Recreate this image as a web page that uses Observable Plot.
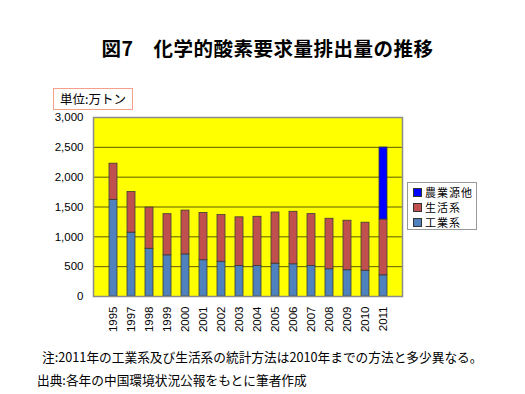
<!DOCTYPE html>
<html>
<head>
<meta charset="utf-8">
<script src="https://cdn.jsdelivr.net/npm/d3@7"></script>
<script src="https://cdn.jsdelivr.net/npm/@observablehq/plot@0.6"></script>
<style>
  html, body { margin: 0; padding: 0; background: #fff; }
  #wrap { position: relative; width: 525px; height: 394px; overflow: hidden; font-family: "Noto Sans CJK JP", "Liberation Sans", sans-serif; }
  #chart { position: absolute; left: 0; top: 0; }
  .title { position: absolute; left: 0; width: 535px; top: 33px; text-align: center; font-size: 19.5px; font-weight: bold; color: #000; letter-spacing: 0.5px; white-space: nowrap; }
  .unit { position: absolute; left: 53px; top: 88px; width: 80px; height: 22px; border: 1px solid #F4A08A; box-sizing: border-box; font-size: 12.5px; line-height: 20px; text-align: center; color: #000; white-space: nowrap; }
  .legend { position: absolute; left: 407px; top: 182px; width: 70px; height: 48px; border: 1px solid #999; box-sizing: border-box; background: #fff; font-size: 11px; }
  .legend .row { position: absolute; left: 5px; height: 14px; line-height: 14px; letter-spacing: 1px; color: #000; white-space: nowrap; }
  .legend .sw { display: inline-block; width: 7px; height: 7px; border: 1px solid #333; margin-right: 3px; vertical-align: 0px; }
  .note { position: absolute; font-size: 12.7px; color: #000; white-space: nowrap; }
</style>
</head>
<body>
<div id="wrap">
  <div id="chart"></div>
  <div class="title">図7　化学的酸素要求量排出量の推移</div>
  <div class="unit">単位:万トン</div>
  <div class="legend" id="legend"></div>
  <div class="note" style="left:42px; top:347px;">注:2011年の工業系及び生活系の統計方法は2010年までの方法と多少異なる。</div>
  <div class="note" style="left:37px; top:370px;">出典:各年の中国環境状況公報をもとに筆者作成</div>
</div>
<script>
const years = ["1995","1997","1998","1999","2000","2001","2002","2003","2004","2005","2006","2007","2008","2009","2010","2011"];
const industrial = [1620, 1070, 800, 690, 705, 608, 582, 512, 510, 550, 540, 511, 456, 440, 432, 355];
const domestic   = [606, 680, 690, 690, 735, 792, 783, 815, 826, 858, 880, 870, 847, 830, 805, 935];
const agriculture = [0,0,0,0,0,0,0,0,0,0,0,0,0,0,0,1207];
const seriesNames = ["工業系", "生活系", "農業源他"];
const seriesColors = ["#4F81BD", "#C0504D", "#0000FF"];
const yTicks = [0, 500, 1000, 1500, 2000, 2500, 3000];

const seriesValues = [industrial, domestic, agriculture];
const data = [];
seriesNames.forEach((s, si) => {
  years.forEach((y, i) => {
    if (seriesValues[si][i] > 0) data.push({year: y, series: s, value: seriesValues[si][i]});
  });
});

const chart = Plot.plot({
  width: 525,
  height: 394,
  marginTop: 117,
  marginBottom: 98,
  marginLeft: 93,
  marginRight: 123,
  style: {fontFamily: "'Liberation Sans', Arial, sans-serif", fontSize: "11.5px", color: "#000", background: "transparent"},
  x: {domain: years, padding: 0.58, label: null},
  y: {domain: [0, 3000], label: null},
  color: {domain: seriesNames, range: seriesColors},
  marks: [
    Plot.frame({fill: "#FFFF00", stroke: "none"}),
    Plot.gridY(yTicks, {stroke: "#5C5C00", strokeOpacity: 1, strokeWidth: 1}),
    Plot.barY(data, {x: "year", y: "value", fill: "series", stroke: "#3a3a3a", strokeWidth: 0.8, order: seriesNames}),
    Plot.frame({stroke: "#8c8c8c", strokeWidth: 1.5}),
    Plot.axisY({ticks: yTicks, tickSize: 0, tickPadding: 10, tickFormat: d3.format(","), label: null}),
    Plot.axisX({tickSize: 0, tickPadding: 10, tickRotate: -90, label: null})
  ]
});
document.getElementById("chart").appendChild(chart);

const legend = document.getElementById("legend");
const legendOrder = [2, 1, 0];
legendOrder.forEach((si, k) => {
  const row = document.createElement("div");
  row.className = "row";
  row.style.top = (2 + k * 15) + "px";
  const sw = document.createElement("span");
  sw.className = "sw";
  sw.style.background = seriesColors[si];
  row.appendChild(sw);
  row.appendChild(document.createTextNode(seriesNames[si]));
  legend.appendChild(row);
});
</script>
</body>
</html>
